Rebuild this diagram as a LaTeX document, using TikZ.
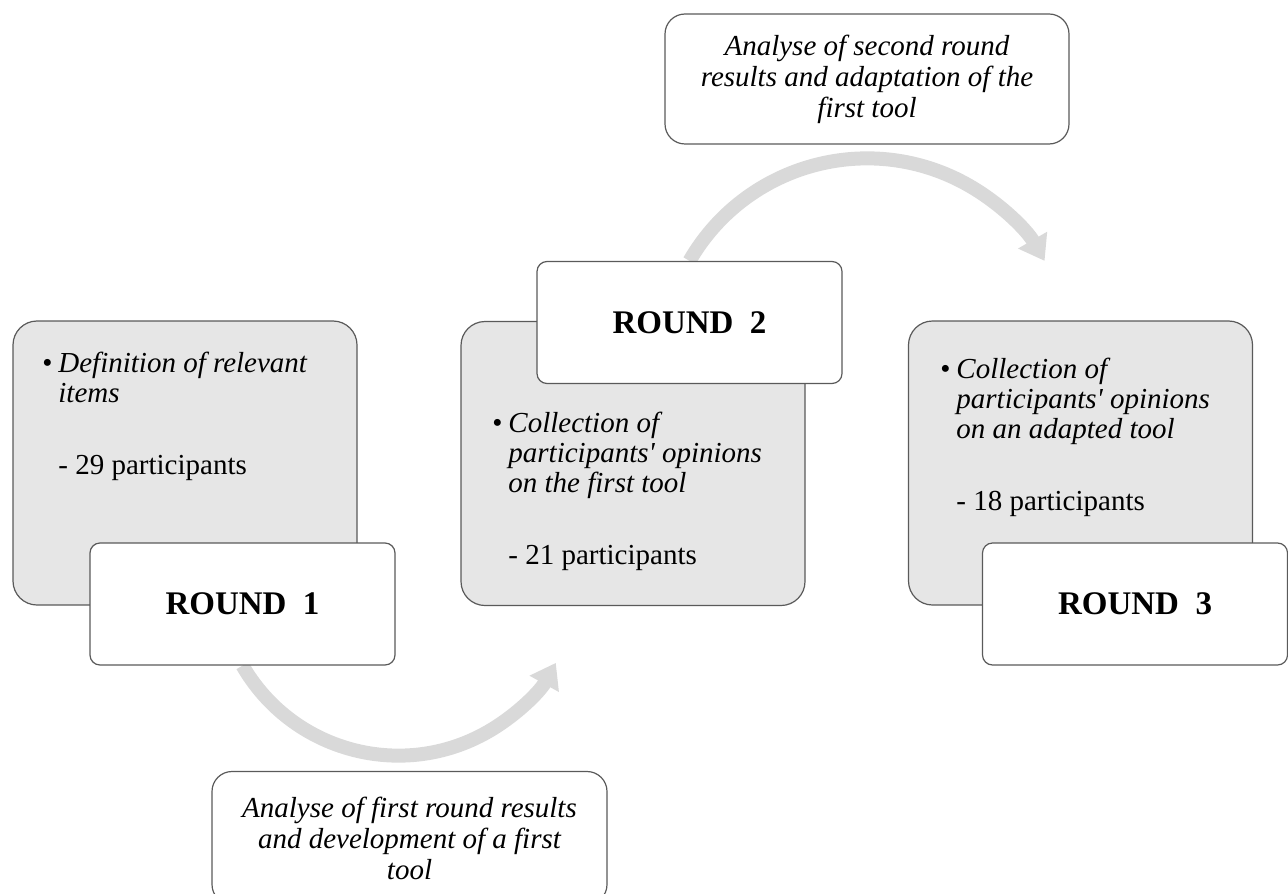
\documentclass[tikz,border=0pt]{standalone}
\usepackage{fontspec}
\setmainfont{Liberation Serif}
\usetikzlibrary{arrows.meta,backgrounds}
\definecolor{edgegray}{HTML}{5A5A5A}
\definecolor{panelgray}{HTML}{E6E6E6}
\definecolor{flowgray}{HTML}{D9D9D9}
\newcommand{\bul}{\makebox[8pt][l]{\textbullet}}
\newcommand{\ind}{\hspace*{8pt}}
\tikzset{
    panel/.style={draw=edgegray, fill=panelgray, line width=0.6pt, rounded corners=12pt,
        minimum width=172pt, minimum height=142pt, inner sep=0pt},
    roundbox/.style={draw=edgegray, fill=white, line width=0.6pt, rounded corners=5pt,
        minimum width=152.5pt, minimum height=61pt, font=\fontsize{16.5}{19}\selectfont\bfseries},
    notebox/.style={draw=edgegray, fill=white, line width=0.6pt, rounded corners=10pt,
        minimum width=202pt, minimum height=65pt, align=center, font=\fontsize{14.5}{15.5}\selectfont\itshape},
    itemtext/.style={anchor=base west, inner sep=0pt, font=\fontsize{14.5}{15}\selectfont},
    flow/.style={draw=flowgray, line width=7pt, -{Triangle[width=16pt,length=12pt]}}
}
\begin{document}
\begin{tikzpicture}[x=0.5pt, y=-0.5pt]
        \useasboundingbox (0,0) rectangle (1288,893);
        
        \node[panel] (p1) at (185,463) {};
        \node[panel] (p2) at (633,463.5) {};
        \node[panel] (p3) at (1080.5,463) {};
        
        \node[itemtext] (t1) at (42,372) {\vtop{\hbox{\bul\textit{Definition of relevant}}
            \hbox{\ind\textit{items}}\vskip21pt
            \hbox{\ind- 29 participants}}};
        \node[itemtext] (t2) at (492,432) {\vtop{\hbox{\bul\textit{Collection of}}
            \hbox{\ind\textit{participants\textquotesingle\ opinions}}
            \hbox{\ind\textit{on the first tool}}\vskip21pt
            \hbox{\ind- 21 participants}}};
        \node[itemtext] (t3) at (940,378) {\vtop{\hbox{\bul\textit{Collection of}}
            \hbox{\ind\textit{participants\textquotesingle\ opinions}}
            \hbox{\ind\textit{on an adapted tool}}\vskip21pt
            \hbox{\ind- 18 participants}}};
        
        \node[roundbox] (r1) at (242.5,604) {ROUND~~1};
        \node[roundbox] (r2) at (689.5,322.5) {ROUND~~2};
        \node[roundbox] (r3) at (1135,604) {ROUND~~3};
        
        \node[notebox] (n2) at (867,79) {Analyse of second round\\ results and adaptation of the\\ first tool};
        \node[notebox, minimum width=197.5pt, minimum height=66.5pt] (n1) at (409.5,838) {Analyse of first round results\\ and development of a first\\ tool};
        
        \begin{scope}[on background layer]
            \draw[flow] (r1.south) arc[start angle=150, end angle=29, radius=180];
            \draw[flow] (r2.north) arc[start angle=210, end angle=330, radius=205];
        \end{scope}
    \end{tikzpicture}
\end{document}
